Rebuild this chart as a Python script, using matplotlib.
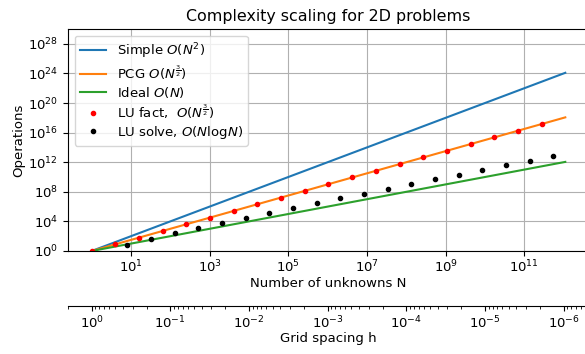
import numpy as np
import matplotlib
matplotlib.use("Agg")
import matplotlib.pyplot as plt

# model lines (straight in log-log, so two ends are enough)
N_line = [1.0, 1.1e12]
ops_simple = [1.0, 1.21e24]
ops_pcg = [1.0, 1.15e18]
ops_ideal = [1.0, 1.1e12]

# LU factorisation points
N_fact = [1, 4, 16, 64, 256, 1024, 4096, 16384, 65536, 262144,
          1.05e6, 4.19e6, 1.68e7, 6.71e7, 2.68e8, 1.07e9, 4.29e9,
          1.72e10, 6.87e10, 2.75e11]
ops_fact = [1, 8, 64, 512, 4096, 32768, 2.62e5, 2.10e6, 1.68e7, 1.34e8,
            1.07e9, 8.59e9, 6.87e10, 5.50e11, 4.40e12, 3.52e13, 2.81e14,
            2.25e15, 1.80e16, 1.44e17]

# LU solve points
N_solve = [8, 32, 128, 512, 2048, 8192, 32768, 131072, 524288, 2.10e6,
           8.39e6, 3.36e7, 1.34e8, 5.37e8, 2.15e9, 8.59e9, 3.44e10,
           1.37e11, 5.50e11]
ops_solve = [7.2, 48.2, 270, 1387, 6782, 32058, 1.48e5, 6.71e5, 3.00e6,
             1.33e7, 5.81e7, 2.53e8, 1.09e9, 4.69e9, 2.00e10, 8.53e10,
             3.62e11, 1.53e12, 6.45e12]

x_ticks = [1e1, 1e3, 1e5, 1e7, 1e9, 1e11]
y_ticks = [1e0, 1e4, 1e8, 1e12, 1e16, 1e20, 1e24, 1e28]

plt.rcParams['font.size'] = 9.5

fig = plt.figure(figsize=(5.85, 3.54), dpi=100)
ax = fig.add_axes([0.1162, 0.291, 0.8906, 0.627])

ax.loglog(N_line, ops_simple, label=r'Simple $O(N^2)$')
ax.loglog(N_line, ops_pcg, label=r'PCG $O(N^{\frac{3}{2}})$')
ax.loglog(N_line, ops_ideal, label=r'Ideal $O(N)$')
ax.loglog(N_fact, ops_fact, 'r.', label=r'LU fact,  $O(N^{\frac{3}{2}})$')
ax.loglog(N_solve, ops_solve, 'k.', label=r'LU solve, $O(N\mathrm{log}N)$')

ax.set_ylim(1, 1e30)
ax.set_xticks(x_ticks)
ax.set_yticks(y_ticks)
ax.minorticks_off()
ax.tick_params(axis='x', pad=2)
ax.grid(True)
ax.set_xlabel('Number of unknowns N', labelpad=1)
ax.set_ylabel('Operations', labelpad=2)
ax.set_title('Complexity scaling for 2D problems')
ax.legend(loc='upper left', labelspacing=0.22)

# grid spacing axis, h = N^(-1/2)
secax = ax.secondary_xaxis(-0.248, functions=(lambda n: np.power(np.abs(n) + 1e-300, -0.5),
                                               lambda h: np.power(np.abs(h) + 1e-300, -2.0)))
secax.tick_params(axis='x', pad=2.5)
secax.set_xlabel('Grid spacing h', labelpad=1)

fig.savefig('out.png', dpi=100)
